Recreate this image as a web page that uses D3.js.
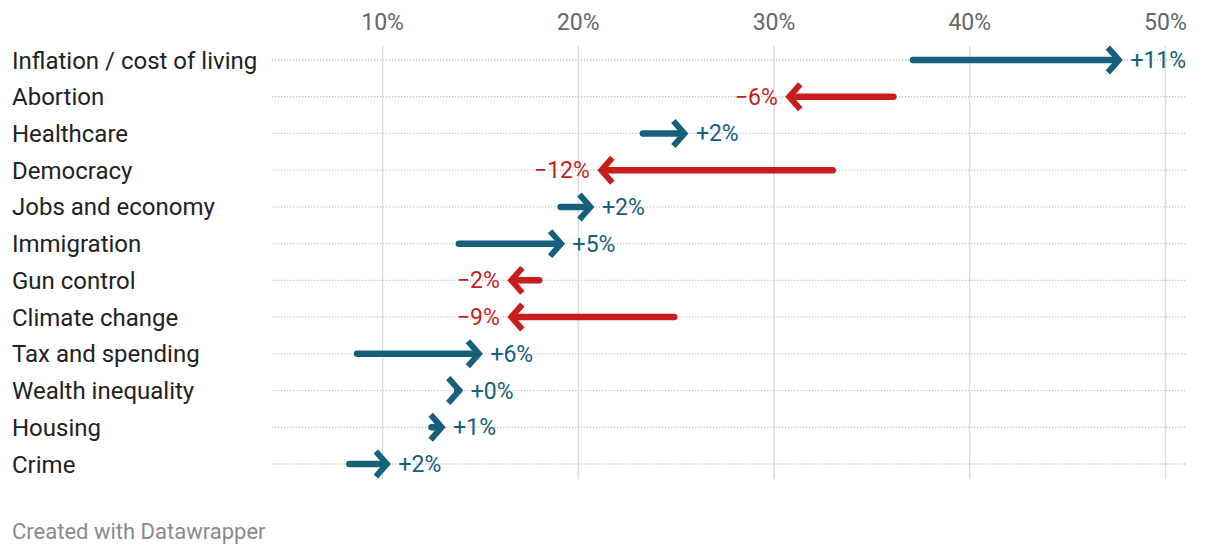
<!DOCTYPE html>
<html><head><meta charset="utf-8">
<script src="https://cdn.jsdelivr.net/npm/d3@7"></script>
<style>
html,body{margin:0;padding:0;background:#fff;}
svg{display:block;font-family:Roboto,"Noto Sans",sans-serif;}
</style></head>
<body>
<svg id="chart" width="1220" height="556"></svg>
<script>
const categories = ["Inflation / cost of living","Abortion","Healthcare","Democracy","Jobs and economy","Immigration","Gun control","Climate change","Tax and spending","Wealth inequality","Housing","Crime"];
const startValues = [37.1, 36.1, 23.3, 33.0, 19.1, 13.9, 18.0, 24.9, 8.7, 13.9, 12.5, 8.3];
const endValues   = [47.8, 30.6, 25.6, 21.0, 20.8, 19.3, 16.4, 16.4, 15.1, 14.1, 13.2, 10.4];
const changeLabels = ["+11%","−6%","+2%","−12%","+2%","+5%","−2%","−9%","+6%","+0%","+1%","+2%"];
const tickValues = [10, 20, 30, 40, 50];
const tickLabels = ["10%","20%","30%","40%","50%"];

const blue = "#17607b", red = "#c71e1d";
const svg = d3.select("#chart");
const x = d3.scaleLinear().domain([4.35, 51.05]).range([272, 1186]);
const y = d3.scalePoint().domain(categories).range([60, 464]);

// vertical gridlines
svg.append("g").selectAll("line").data(tickValues).join("line")
  .attr("x1", d => x(d)).attr("x2", d => x(d))
  .attr("y1", 46).attr("y2", 479)
  .attr("stroke", "#d9d9d9").attr("stroke-width", 1.3);

// tick labels
svg.append("g").selectAll("text").data(tickValues).join("text")
  .attr("x", d => x(d)).attr("y", 30)
  .attr("text-anchor", "middle")
  .attr("font-size", 23).attr("fill", "#666")
  .text((d, i) => tickLabels[i]);

// dotted row lines
svg.append("g").selectAll("line").data(categories).join("line")
  .attr("x1", 272).attr("x2", 1186)
  .attr("y1", d => y(d)).attr("y2", d => y(d))
  .attr("stroke", "#c8c8c8").attr("stroke-width", 1.3)
  .attr("stroke-dasharray", "1.3,1.7");

// category labels
svg.append("g").selectAll("text").data(categories).join("text")
  .attr("x", 12).attr("y", d => y(d) + 8.5)
  .attr("font-size", 24).attr("fill", "#222")
  .text(d => d);

// arrows
const rows = categories.map((c, i) => ({c, s: startValues[i], e: endValues[i], lab: changeLabels[i]}));
const g = svg.append("g").selectAll("g").data(rows).join("g");
g.each(function(d) {
  const el = d3.select(this);
  const dir = d.e >= d.s ? 1 : -1;
  const col = dir > 0 ? blue : red;
  const yy = y(d.c);
  const tip = x(d.e) - dir * 3.5;
  const x0 = x(d.s);
  el.append("line")
    .attr("x1", x0).attr("x2", tip - dir * 2)
    .attr("y1", yy).attr("y2", yy)
    .attr("stroke", col).attr("stroke-width", 6.5).attr("stroke-linecap", "round");
  el.append("path")
    .attr("d", `M${tip - dir * 11},${yy - 12.5} L${tip},${yy} L${tip - dir * 11},${yy + 12.5}`)
    .attr("fill", "none").attr("stroke", col).attr("stroke-width", 6)
    .attr("stroke-linejoin", "miter").attr("stroke-linecap", "butt");
  el.append("text")
    .attr("x", x(d.e) + dir * 8)
    .attr("y", yy + 8)
    .attr("text-anchor", dir > 0 ? "start" : "end")
    .attr("font-size", 23).attr("fill", col)
    .text(d.lab);
});

// footer
svg.append("text").attr("x", 12).attr("y", 539)
  .attr("font-size", 22).attr("fill", "#8a8a8a")
  .text("Created with Datawrapper");
</script>
</body></html>
